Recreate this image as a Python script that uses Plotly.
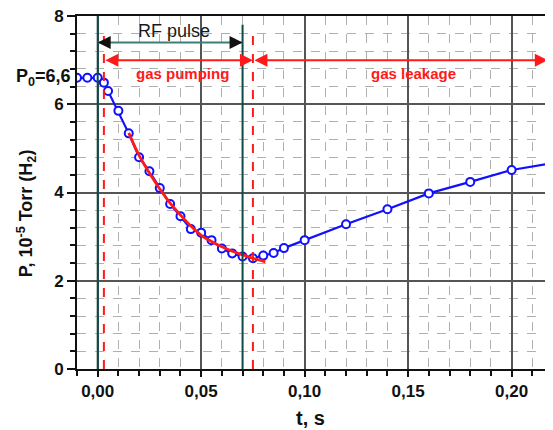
import plotly.graph_objects as go

# ---- data ----
t_meas = [-0.01, -0.005, 0.0, 0.003, 0.005, 0.01, 0.015, 0.02, 0.025, 0.03, 0.035,
          0.04, 0.045, 0.05, 0.055, 0.06, 0.065, 0.07, 0.075, 0.08, 0.085, 0.09,
          0.10, 0.12, 0.14, 0.16, 0.18, 0.20, 0.22]
p_meas = [6.6, 6.6, 6.6, 6.49, 6.30, 5.85, 5.34, 4.80, 4.48, 4.10, 3.74,
          3.46, 3.17, 3.09, 2.92, 2.73, 2.62, 2.55, 2.51, 2.57, 2.63, 2.74,
          2.92, 3.28, 3.62, 3.98, 4.24, 4.51, 4.67]

t_fit = [0.015, 0.02, 0.025, 0.03, 0.035, 0.04, 0.045, 0.05, 0.055, 0.06, 0.065,
         0.07, 0.075, 0.081]
p_fit = [5.35, 4.84, 4.44, 4.08, 3.76, 3.49, 3.24, 3.03, 2.89, 2.77, 2.67,
         2.59, 2.51, 2.43]

RF_START, RF_END = 0.0, 0.07
PUMP_START, PUMP_END = 0.003, 0.075
P0 = 6.6
x_ticks = [0.0, 0.05, 0.10, 0.15, 0.20]
y_ticks = [0, 2, 4, 6, 8]

FONT = "Liberation Sans"
TEAL_DARK = "#0e4a46"
TEAL = "#3b8076"
RED = "#ff1a1a"
BLUE = "#1010ff"

fig = go.Figure()

# vertical markers
fig.add_shape(type="line", x0=RF_START, x1=RF_START, y0=0, y1=8, xref="x", yref="y",
              line=dict(color=TEAL_DARK, width=2))
fig.add_shape(type="line", x0=RF_END, x1=RF_END, y0=0, y1=7.8, xref="x", yref="y",
              line=dict(color=TEAL_DARK, width=2))
fig.add_shape(type="line", x0=PUMP_START, x1=PUMP_START, y0=0, y1=7.6, xref="x", yref="y",
              line=dict(color=RED, width=2, dash="dash"))
fig.add_shape(type="line", x0=PUMP_END, x1=PUMP_END, y0=0, y1=7.6, xref="x", yref="y",
              line=dict(color=RED, width=2, dash="dash"))

# RF pulse arrow line
fig.add_shape(type="line", x0=RF_START, x1=RF_END, y0=7.4, y1=7.4, xref="x", yref="y",
              line=dict(color=TEAL, width=2))

fig.add_trace(go.Scatter(
    x=t_meas, y=p_meas, mode="lines+markers",
    line=dict(color=BLUE, width=2.2),
    marker=dict(symbol="circle", size=8, color="white",
                line=dict(color=BLUE, width=2)),
    showlegend=False, cliponaxis=True))

fig.add_trace(go.Scatter(
    x=t_fit, y=p_fit, mode="lines", line=dict(color=RED, width=2.8, shape="spline"),
    showlegend=False))

ann = []
# RF arrowheads (black)
for xe, xs in [(RF_START, RF_START + 0.006), (RF_END, RF_END - 0.006)]:
    ann.append(dict(x=xe, y=7.4, ax=xs, ay=7.4, xref="x", yref="y", axref="x", ayref="y",
                    text="", showarrow=True, arrowhead=2, arrowsize=1.3, arrowwidth=2,
                    arrowcolor="#111"))
# gas pumping arrow
ann.append(dict(x=PUMP_END, y=7.0, ax=PUMP_START, ay=7.0, xref="x", yref="y",
                axref="x", ayref="y", text="", showarrow=True, arrowhead=2,
                arrowside="end+start", arrowsize=1.3, arrowwidth=2, arrowcolor=RED))
# gas leakage arrow
ann.append(dict(x=0.2175, y=7.0, ax=PUMP_END, ay=7.0, xref="x", yref="y",
                axref="x", ayref="y", text="", showarrow=True, arrowhead=2,
                arrowside="end+start", arrowsize=1.3, arrowwidth=2, arrowcolor=RED))
ann.append(dict(x=0.037, y=7.67, xref="x", yref="y", text="RF pulse", showarrow=False,
                font=dict(family=FONT, size=18, color="#1a1a1a")))
ann.append(dict(x=0.041, y=6.7, xref="x", yref="y", text="gas pumping", showarrow=False,
                font=dict(family=FONT, size=15, color=RED, weight="bold")))
ann.append(dict(x=0.1525, y=6.7, xref="x", yref="y", text="gas leakage", showarrow=False,
                font=dict(family=FONT, size=15, color=RED, weight="bold")))
ann.append(dict(x=-0.008, y=P0, xref="paper", yref="y", xanchor="right", yanchor="middle",
                text="P<sub>0</sub>=6,6", showarrow=False,
                font=dict(family=FONT, size=18, color="#111", weight="bold")))
ann.append(dict(x=-0.106, y=0.44, xref="paper", yref="paper", textangle=-90,
                text="P, 10<sup>-5</sup> Torr (H<sub>2</sub>)", showarrow=False,
                xanchor="center", yanchor="middle",
                font=dict(family=FONT, size=18, color="#111", weight="bold")))
ann.append(dict(x=0.49, y=-0.139, xref="paper", yref="paper", text="t, s",
                showarrow=False, xanchor="center", yanchor="middle",
                font=dict(family=FONT, size=20, color="#111", weight="bold")))

# the page adds an 8px body margin, so the figure is sized/offset to compensate
fig.update_layout(
    width=545, height=422,
    margin=dict(l=69, r=0, t=8, b=61),
    paper_bgcolor="white", plot_bgcolor="white",
    separators=", ",
    annotations=ann,
    showlegend=False,
    xaxis=dict(range=[-0.01, 0.22], tickvals=x_ticks, tickformat=".2f",
               showgrid=True, gridcolor="#555", gridwidth=1.5,
               showline=True, linecolor="#111", linewidth=2, mirror=True,
               ticks="outside", ticklen=6, tickwidth=1.5, tickcolor="#111",
               ticklabeloverflow="allow",
               tickfont=dict(family=FONT, size=17, color="#111", weight="bold"),
               minor=dict(dtick=0.01, tick0=0, showgrid=True, gridcolor="#b0b0b0",
                          griddash="dash", gridwidth=1, ticks="outside", ticklen=5,
                          tickcolor="#111"),
               zeroline=False),
    yaxis=dict(range=[0, 8], tickvals=y_ticks,
               showgrid=True, gridcolor="#555", gridwidth=1.5,
               showline=True, linecolor="#111", linewidth=2,
               ticks="outside", ticklen=8, tickwidth=1.5, tickcolor="#111",
               ticklabeloverflow="allow",
               tickfont=dict(family=FONT, size=17, color="#111", weight="bold"),
               minor=dict(dtick=0.4, tick0=0, showgrid=True, gridcolor="#b0b0b0",
                          griddash="dash", gridwidth=1, ticks="outside", ticklen=5,
                          tickcolor="#111"),
               zeroline=False),
)

fig.write_html("out.html")
